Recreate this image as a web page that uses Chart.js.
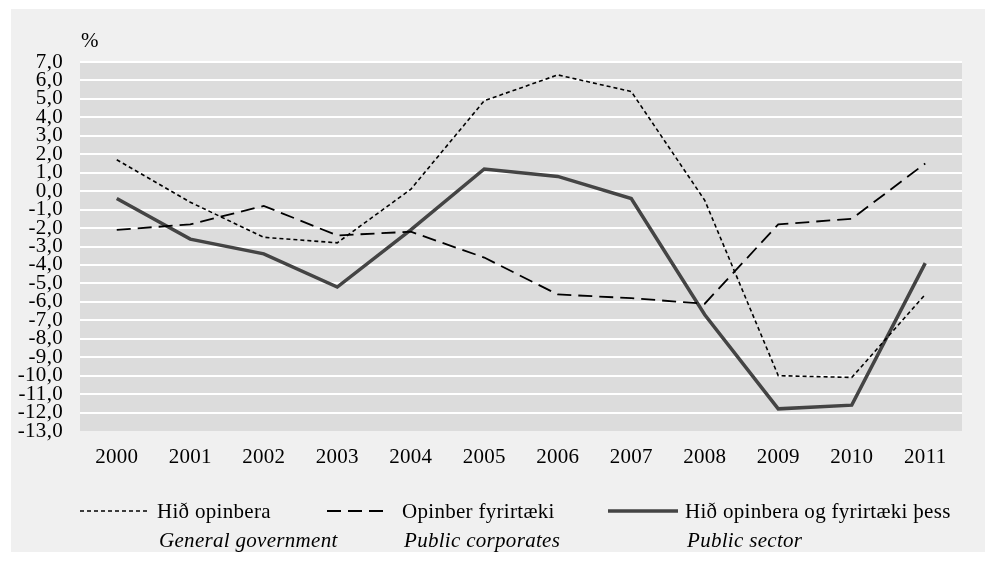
<!DOCTYPE html>
<html>
<head>
<meta charset="utf-8">
<script src="https://cdn.jsdelivr.net/npm/chart.js@4/dist/chart.umd.min.js"></script>
<style>
  body { margin: 0; background: #fff; }
  #box { position: absolute; left: 11px; top: 9px; width: 974px; height: 543px; background: #f0f0f0; }
</style>
</head>
<body>
<div id="box"><canvas id="c" width="974" height="543"></canvas></div>
<script>
/* Public sector balance, % */

const years = ["2000", "2001", "2002", "2003", "2004", "2005", "2006", "2007", "2008", "2009", "2010", "2011"];
const generalGov = [1.7, -0.6, -2.5, -2.8, 0.1, 4.9, 6.3, 5.4, -0.5, -10.0, -10.1, -5.6];
const publicCorp = [-2.1, -1.8, -0.8, -2.4, -2.2, -3.6, -5.6, -5.8, -6.1, -1.8, -1.5, 1.5];
const publicSector = [-0.4, -2.6, -3.4, -5.2, -2.1, 1.2, 0.8, -0.4, -6.7, -11.8, -11.6, -3.9];
const namesIs = ["Hið opinbera", "Opinber fyrirtæki", "Hið opinbera og fyrirtæki þess"];
const namesEn = ["General government", "Public corporates", "Public sector"];
const yMin = -13, yMax = 7;

const FONT = "'Liberation Serif', 'Times New Roman', serif";
const LS = "0.3px";
const fmt = (v) => v.toFixed(1).replace(".", ",");

const spacing = {
  id: "spacing",
  beforeLayout: (c) => { c.ctx.letterSpacing = LS; },
  beforeDraw: (c) => { c.ctx.letterSpacing = LS; },
};

const plotBg = {
  id: "plotBg",
  beforeDraw(c) {
    const { ctx, chartArea: a } = c;
    ctx.save();
    ctx.fillStyle = "#dcdcdc";
    ctx.fillRect(a.left, a.top, a.right - a.left, a.bottom - a.top);
    ctx.restore();
  },
};

// legend below the plot, icelandic on top, english in italics under it
const legendX = [[69, 137, 146], [316, 373, 391], [597, 667, 674]];
const legendBox = {
  id: "legendBox",
  afterDraw(c) {
    const ctx = c.ctx;
    const top = c.chartArea.top;
    ctx.save();
    ctx.letterSpacing = LS;
    ctx.fillStyle = "#000";
    ctx.font = `21px ${FONT}`;
    ctx.textBaseline = "middle";
    ctx.fillText("%", c.chartArea.left + 1, top - 21);
    c.data.datasets.forEach((ds, i) => {
      const [x0, x1, tx] = legendX[i];
      ctx.beginPath();
      ctx.strokeStyle = ds.borderColor;
      ctx.lineWidth = ds.borderWidth;
      ctx.setLineDash(ds.borderDash || []);
      ctx.moveTo(x0, 502);
      ctx.lineTo(x1, 502);
      ctx.stroke();
      ctx.font = `21px ${FONT}`;
      ctx.fillText(namesIs[i], tx, 503);
      ctx.font = `italic 21px ${FONT}`;
      ctx.fillText(namesEn[i], tx + 2, 532);
    });
    ctx.restore();
  },
};

new Chart(document.getElementById("c"), {
  type: "line",
  data: {
    labels: years,
    datasets: [
      { label: namesIs[0], data: generalGov, borderColor: "#000", borderWidth: 1.6, borderDash: [4, 3] },
      { label: namesIs[1], data: publicCorp, borderColor: "#000", borderWidth: 1.8, borderDash: [14, 7] },
      { label: namesIs[2], data: publicSector, borderColor: "#444", borderWidth: 3.5 },
    ],
  },
  options: {
    responsive: false,
    animation: false,
    devicePixelRatio: 1,
    elements: { point: { radius: 0 }, line: { tension: 0, borderCapStyle: "butt" } },
    layout: { padding: { top: 53, right: 23, left: 0, bottom: 0 } },
    plugins: { legend: { display: false }, tooltip: { enabled: false } },
    scales: {
      x: {
        offset: true,
        grid: { display: false },
        border: { display: false },
        ticks: { color: "#000", font: { family: FONT, size: 21 }, padding: 6, maxRotation: 0 },
        afterFit: (s) => { s.height = 121; },
      },
      y: {
        min: yMin, max: yMax,
        grid: { color: (t) => (t.tick && t.tick.value === yMin ? "rgba(0,0,0,0)" : "#fff"), lineWidth: 2, drawTicks: false },
        border: { display: false },
        ticks: {
          stepSize: 1, autoSkip: false, color: "#000", padding: 17,
          font: { family: FONT, size: 21, lineHeight: 1 },
          callback: (v) => fmt(v),
        },
        afterFit: (s) => { s.width = 69; },
      },
    },
  },
  plugins: [spacing, plotBg, legendBox],
});
</script>
</body>
</html>
